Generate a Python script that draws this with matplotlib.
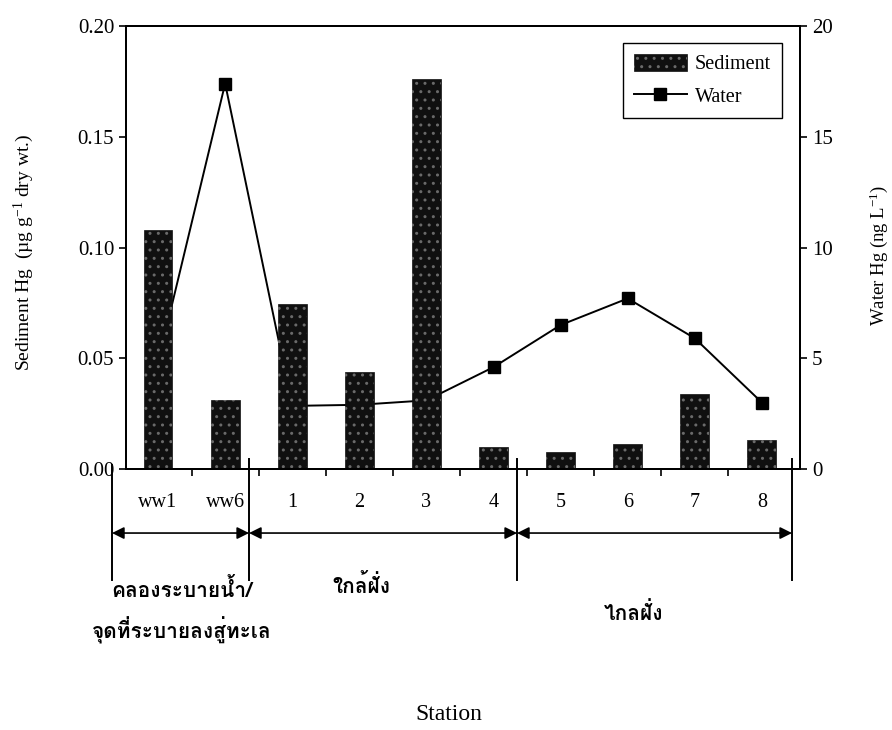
import numpy as np
import matplotlib
matplotlib.use('Agg')
import matplotlib.pyplot as plt
from matplotlib import font_manager
from matplotlib.ft2font import FT2Font
from matplotlib.legend_handler import HandlerTuple

# ข้อมูลปรอทในตะกอนดินและในน้ำ ตามสถานี
stations = ['ww1', 'ww6', '1', '2', '3', '4', '5', '6', '7', '8']
sediment = [0.108, 0.031, 0.0745, 0.044, 0.176, 0.010, 0.0075, 0.0115, 0.034, 0.013]
water = [4.8, 17.4, 2.85, 2.9, 3.1, 4.6, 6.5, 7.7, 5.9, 3.0]

zone_labels = ['คลองระบายน้ำ/\nจุดที่ระบายลงสู่ทะเล', 'ใกล้ฝั่ง', 'ไกลฝั่ง']


def find_thai_font():
    # หาฟอนต์ที่มีอักษรไทย
    for f in font_manager.fontManager.ttflist:
        try:
            if 0x0E04 in FT2Font(f.fname).get_charmap():
                return f.name
        except Exception:
            pass
    return 'DejaVu Sans'


thai_font = find_thai_font()

plt.rcParams['font.family'] = ['Liberation Serif', 'DejaVu Serif']
plt.rcParams['mathtext.fontset'] = 'custom'
plt.rcParams['mathtext.rm'] = 'Liberation Serif'
plt.rcParams['mathtext.it'] = 'Liberation Serif:italic'
plt.rcParams['hatch.linewidth'] = 1.0

fig = plt.figure(figsize=(8.92, 7.3), dpi=100)
ax1 = fig.add_axes([0.1413, 0.3575, 0.7556, 0.6069])
ax2 = ax1.twinx()

# เส้นน้ำอยู่ใต้แท่งกราฟ
ax1.set_zorder(ax2.get_zorder() + 1)
ax1.patch.set_visible(False)

x = np.arange(len(stations))
width = 0.43

bars = ax1.bar(x, sediment, width, color='#101010', edgecolor='#101010', linewidth=0.5)
dots = ax1.bar(x, sediment, width, fill=False, hatch='..', edgecolor='#6a6a6a', linewidth=0)

line, = ax2.plot(x, water, '-', color='black', lw=1.4, marker='s', ms=9,
                 markerfacecolor='black', markeredgecolor='black')

ax1.set_xlim(-0.477, 9.568)
ax1.set_ylim(0, 0.20)
ax2.set_ylim(0, 20)

ax1.set_yticks([0, 0.05, 0.10, 0.15, 0.20])
ax1.set_yticklabels(['0.00', '0.05', '0.10', '0.15', '0.20'])
ax2.set_yticks([0, 5, 10, 15, 20])

ax1.set_xticks(x)
ax1.set_xticklabels(stations)
ax1.set_xticks(x[:-1] + 0.5, minor=True)
ax1.tick_params(axis='x', which='major', length=0, pad=17, labelsize=14.5)
ax1.tick_params(axis='x', which='minor', length=5, direction='out', width=1.2)
ax1.tick_params(axis='y', length=5, direction='out', width=1.2, labelsize=15)
ax2.tick_params(axis='y', length=5, direction='out', width=1.2, labelsize=15)

for a in (ax1, ax2):
    for s in a.spines.values():
        s.set_linewidth(1.4)

ax1.set_ylabel('Sediment Hg  (\u00b5g g$^{-1}$ dry wt.)', fontsize=14)
ax1.yaxis.set_label_coords(-0.1335, 0.49)
ax2.set_ylabel('Water Hg (ng L$^{-1}$)', fontsize=13.5, rotation=90)
ax2.yaxis.set_label_coords(1.1, 0.483)

leg = ax1.legend([(bars[0], dots[0]), line], ['Sediment', 'Water'],
                 handler_map={tuple: HandlerTuple(ndivide=1)},
                 loc='upper right', bbox_to_anchor=(0.973, 0.9616), borderaxespad=0,
                 fancybox=False, edgecolor='black', fontsize=14.5, handlelength=2.6,
                 handleheight=0.9, labelspacing=0.6, borderpad=0.55, handletextpad=0.4,
                 framealpha=1)
leg.get_frame().set_linewidth(1.0)

# เส้นแบ่งกลุ่มสถานีและลูกศร
tr = ax1.transAxes
sep_x = [-0.0208, 0.1825, 0.5801, 0.9881]
for i, sx in enumerate(sep_x):
    top = 0.009 if i == 0 else 0.022
    ax1.plot([sx, sx], [top, -0.2506], transform=tr, color='black', lw=1.4, clip_on=False)

for x0, x1 in zip(sep_x[:-1], sep_x[1:]):
    ax1.annotate('', xy=(x1, -0.1445), xytext=(x0, -0.1445), xycoords=tr, textcoords=tr,
                 arrowprops=dict(arrowstyle='<|-|>', color='black', lw=1.2,
                                 mutation_scale=18, shrinkA=0, shrinkB=0))

thai = dict(transform=tr, ha='center', va='center', family=[thai_font, 'DejaVu Sans'],
            fontsize=15, fontweight='bold')
first, second = zone_labels[0].split('\n')
ax1.text(0.0831, -0.273, first, **thai)
ax1.text(0.0831, -0.3634, second, **thai)
ax1.text(0.3487, -0.2619, zone_labels[1], **thai)
ax1.text(0.7537, -0.325, zone_labels[2], **thai)

ax1.text(0.479, -0.555, 'Station', transform=tr, ha='center', va='center', fontsize=17)

fig.savefig('out.png', dpi=100)
